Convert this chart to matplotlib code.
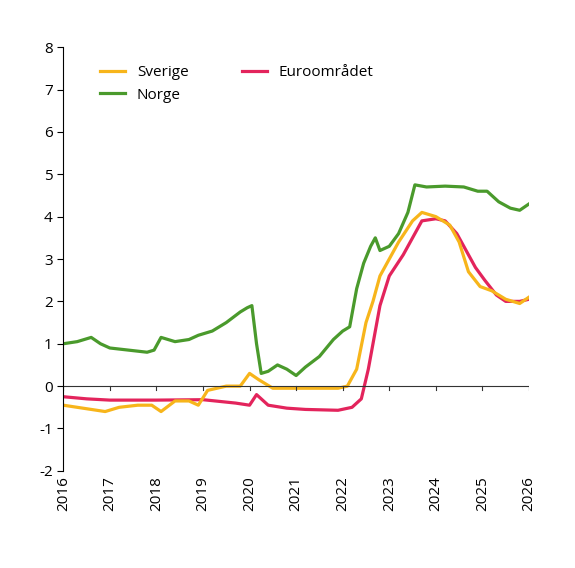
import numpy as np
import matplotlib.pyplot as plt

plt.rcParams['font.family'] = ['Open Sans', 'DejaVu Sans']
plt.rcParams['axes.unicode_minus'] = False

# (decimal year, value)
norge_t = [2016.0, 2016.3, 2016.6, 2016.8, 2017.0, 2017.4, 2017.8, 2017.95, 2018.1, 2018.4, 2018.7, 2018.9,
           2019.2, 2019.5, 2019.8, 2019.95, 2020.05, 2020.15, 2020.25, 2020.4, 2020.6, 2020.8, 2021.0,
           2021.2, 2021.5, 2021.8, 2022.0, 2022.15, 2022.3, 2022.45, 2022.6, 2022.7, 2022.8, 2023.0,
           2023.2, 2023.4, 2023.55, 2023.8, 2024.2, 2024.6, 2024.9, 2025.1, 2025.35, 2025.6, 2025.8, 2026.0]
norge_v = [1.0, 1.05, 1.15, 1.0, 0.9, 0.85, 0.8, 0.85, 1.15, 1.05, 1.1, 1.2,
           1.3, 1.5, 1.75, 1.85, 1.9, 1.0, 0.3, 0.35, 0.5, 0.4, 0.25,
           0.45, 0.7, 1.1, 1.3, 1.4, 2.3, 2.9, 3.3, 3.5, 3.2, 3.3,
           3.6, 4.1, 4.75, 4.7, 4.72, 4.7, 4.6, 4.6, 4.35, 4.2, 4.15, 4.3]

sverige_t = [2016.0, 2016.3, 2016.6, 2016.9, 2017.2, 2017.6, 2017.9, 2018.1, 2018.4, 2018.7, 2018.9,
             2019.1, 2019.5, 2019.8, 2020.0, 2020.2, 2020.5, 2020.8, 2021.2, 2021.6, 2021.9, 2022.1,
             2022.3, 2022.5, 2022.65, 2022.8, 2023.0, 2023.2, 2023.5, 2023.7, 2024.0, 2024.3, 2024.5,
             2024.7, 2024.95, 2025.2, 2025.5, 2025.8, 2026.0]
sverige_v = [-0.45, -0.5, -0.55, -0.6, -0.5, -0.45, -0.45, -0.6, -0.35, -0.35, -0.45,
             -0.1, 0.0, 0.0, 0.3, 0.15, -0.05, -0.05, -0.05, -0.05, -0.05, 0.0,
             0.4, 1.5, 2.0, 2.6, 3.0, 3.4, 3.9, 4.1, 4.0, 3.8, 3.4,
             2.7, 2.35, 2.25, 2.05, 1.95, 2.1]

euro_t = [2016.0, 2016.5, 2017.0, 2018.0, 2019.0, 2019.7, 2020.0, 2020.15, 2020.4, 2020.8, 2021.2,
          2021.9, 2022.2, 2022.4, 2022.55, 2022.7, 2022.8, 2023.0, 2023.3, 2023.5, 2023.7, 2024.0,
          2024.2, 2024.45, 2024.65, 2024.85, 2025.05, 2025.3, 2025.5, 2025.8, 2026.0]
euro_v = [-0.25, -0.3, -0.33, -0.33, -0.32, -0.4, -0.45, -0.2, -0.45, -0.52, -0.55,
          -0.57, -0.5, -0.3, 0.4, 1.3, 1.9, 2.6, 3.1, 3.5, 3.9, 3.95,
          3.9, 3.6, 3.2, 2.8, 2.5, 2.15, 2.0, 2.0, 2.05]

years = list(range(2016, 2027))

fig = plt.figure(figsize=(5.75, 5.68), dpi=100)
ax = fig.add_axes([0.11, 0.171, 0.81, 0.746])

ax.plot(norge_t, norge_v, color='#4a9a2c', lw=2.3, label='Norge')
ax.plot(euro_t, euro_v, color='#e3245c', lw=2.3, label='Euroområdet')
ax.plot(sverige_t, sverige_v, color='#f7b51b', lw=2.3, label='Sverige')

ax.set_xlim(2016, 2026)
ax.set_ylim(-2, 8)
ax.set_yticks(range(-2, 9))
ax.set_xticks(years)
ax.set_xticklabels([str(y) for y in years], rotation=90)
ax.tick_params(axis='x', length=0, labelsize=11, pad=4)
ax.tick_params(axis='y', labelsize=11, direction='out', length=4)
for s in ['top', 'right', 'bottom']:
    ax.spines[s].set_visible(False)
ax.axhline(0, color='#333333', lw=0.8)
for y in years:
    ax.plot([y, y], [0, -0.1], color='#333333', lw=0.8)

h, l = ax.get_legend_handles_labels()
order = [2, 0, 1]
ax.legend([h[i] for i in order], [l[i] for i in order], ncol=2, frameon=False,
          loc='upper left', bbox_to_anchor=(0.05, 0.99), fontsize=11,
          handlelength=1.6, columnspacing=3.5, labelspacing=0.5)

fig.savefig('out.png', dpi=100)
